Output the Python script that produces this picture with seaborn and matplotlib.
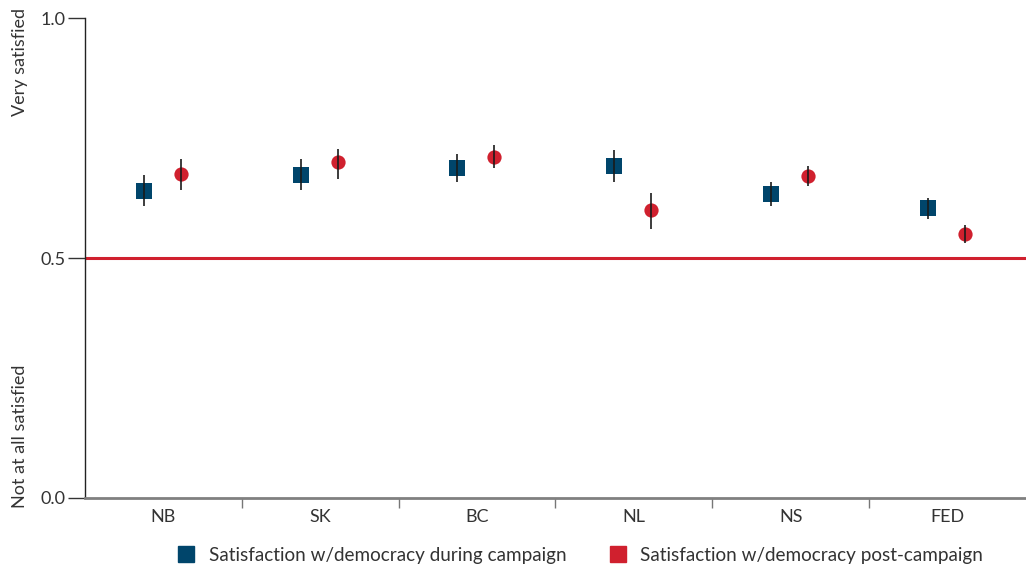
import matplotlib
matplotlib.use("Agg")
import matplotlib.pyplot as plt
from matplotlib.lines import Line2D
import seaborn as sns
import pandas as pd
import numpy as np

# ---- data ----
provinces = ["NB", "SK", "BC", "NL", "NS", "FED"]
during_mean = [0.640, 0.672, 0.688, 0.692, 0.633, 0.604]
during_low = [0.609, 0.642, 0.658, 0.658, 0.608, 0.582]
during_high = [0.673, 0.706, 0.716, 0.725, 0.658, 0.625]
post_mean = [0.674, 0.699, 0.711, 0.601, 0.671, 0.550]
post_low = [0.642, 0.664, 0.687, 0.560, 0.649, 0.532]
post_high = [0.706, 0.727, 0.735, 0.635, 0.692, 0.569]
series_names = ["Satisfaction w/democracy during campaign",
                "Satisfaction w/democracy post-campaign"]
reference_level = 0.5

NAVY = "#00456B"
RED = "#D0202E"

sns.set_theme(style="white")
plt.rcParams["font.family"] = ["Lato", "DejaVu Sans"]

rows = []
for i, p in enumerate(provinces):
    rows.append(dict(prov=p, x=i - 0.125, mean=during_mean[i], lo=during_low[i],
                     hi=during_high[i], series=series_names[0]))
    rows.append(dict(prov=p, x=i + 0.11, mean=post_mean[i], lo=post_low[i],
                     hi=post_high[i], series=series_names[1]))
df = pd.DataFrame(rows)

fig = plt.figure(figsize=(10.26, 5.67), dpi=100)
ax = fig.add_axes([85 / 1026, 69 / 567, 1 - 85 / 1026, 480 / 567])

ax.axhline(reference_level, color=RED, lw=2.2, zorder=1)

d1 = df[df.series == series_names[0]]
d2 = df[df.series == series_names[1]]
sns.scatterplot(data=d1, x="x", y="mean", marker="s", s=135, color=NAVY,
                linewidth=0, ax=ax, zorder=3, legend=False)
sns.scatterplot(data=d2, x="x", y="mean", marker="o", s=105, color=RED,
                linewidth=0, ax=ax, zorder=3, legend=False)
ax.vlines(df["x"], df["lo"], df["hi"], color="#1a1a1a", lw=1.4, zorder=4, alpha=0.85)

ax.set_xlim(-0.5, len(provinces) - 0.5)
ax.set_ylim(0, 1)
ax.set_xlabel("")
ax.set_ylabel("")

# x ticks: boundaries as major ticks, labels at centers as minor
ax.set_xticks(np.arange(0.5, len(provinces) - 0.5, 1.0))
ax.set_xticklabels([])
ax.set_xticks(np.arange(len(provinces)), minor=True)
ax.set_xticklabels(provinces, minor=True, fontsize=13, color="#333333")
ax.tick_params(axis="x", which="major", length=7, width=1, color="#777777",
               direction="out", bottom=True)
ax.tick_params(axis="x", which="minor", length=0, pad=8)

ax.set_yticks([0.0, 0.5, 1.0])
ax.set_yticklabels(["0.0", "0.5", "1.0"], fontsize=13, color="#333333")
ax.tick_params(axis="y", length=12, width=1, color="#333333", direction="out",
               left=True, pad=2)

for s in ["top", "right"]:
    ax.spines[s].set_visible(False)
ax.spines["left"].set_color("#222222")
ax.spines["left"].set_linewidth(1.0)
ax.spines["bottom"].set_color("#808080")
ax.spines["bottom"].set_linewidth(2.0)

fig.text(20 / 1026, 1 - 8 / 567, "Very satisfied", rotation=90, va="top",
         ha="center", fontsize=13, color="#333333")
fig.text(20 / 1026, (567 - 508) / 567, "Not at all satisfied", rotation=90,
         va="bottom", ha="center", fontsize=13, color="#333333")

handles = [Line2D([], [], marker="s", linestyle="none", color=NAVY, markersize=11),
           Line2D([], [], marker="s", linestyle="none", color=RED, markersize=11)]
leg = fig.legend(handles, series_names, loc="center", ncol=2,
                 bbox_to_anchor=(580 / 1026, 12 / 567), frameon=False,
                 fontsize=13.6, handlelength=1.0, handletextpad=0.7,
                 columnspacing=2.2)
for t in leg.get_texts():
    t.set_color("#333333")

fig.savefig("out.png", dpi=100)
